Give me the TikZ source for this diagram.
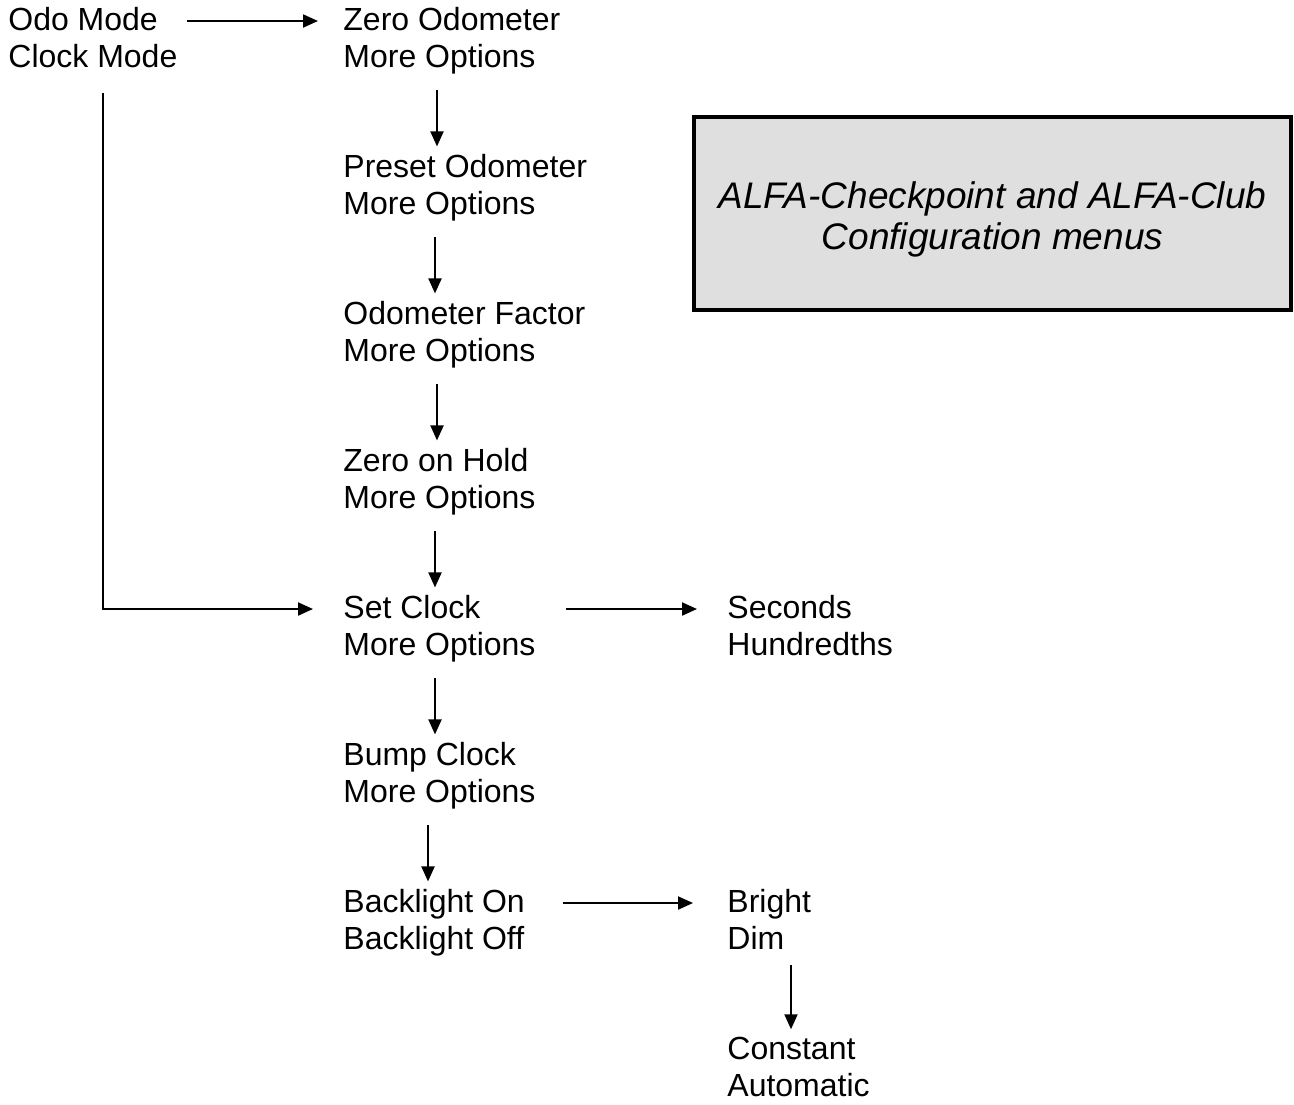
\documentclass[tikz,border=0pt]{standalone}
\usepackage{fontspec}
\setmainfont{Liberation Sans}
\usetikzlibrary{arrows.meta,calc}

\begin{document}
\begin{tikzpicture}[x=0.5pt,y=-0.5pt,
    menu/.style={anchor=base west,inner sep=0pt,align=left,font=\fontsize{16}{18.5}\selectfont},
    arr/.style={-{Triangle[length=7.5pt,width=6.5pt]},line width=1pt},
    titlebox/.style={draw,line width=2pt,fill=gray!25,minimum width=298.5pt,minimum height=96.5pt},
    titletext/.style={inner sep=0pt,align=center,font=\fontsize{18.5}{20.5}\selectfont\itshape}]
    \useasboundingbox (0,0) rectangle (1294,1104);
    \node[menu] (mode) at (8,67) {Odo Mode\\Clock Mode};
    \node[menu] (zero) at (343,67) {Zero Odometer\\More Options};
    \node[menu] (preset) at (343,214) {Preset Odometer\\More Options};
    \node[menu] (factor) at (343,361) {Odometer Factor\\More Options};
    \node[menu] (hold) at (343,508) {Zero on Hold\\More Options};
    \node[menu] (setclk) at (343,655) {Set Clock\\More Options};
    \node[menu] (bump) at (343,802) {Bump Clock\\More Options};
    \node[menu] (backl) at (343,949) {Backlight On\\Backlight Off};
    \node[menu] (secs) at (727,655) {Seconds\\Hundredths};
    \node[menu] (bright) at (727,949) {Bright\\Dim};
    \node[menu] (const) at (727,1096) {Constant\\Automatic};
    \node[titlebox] (title) at (992.5,213.5) {};
    \node[titletext] (titlelbl) at ($(title.center)+(0,6)$) {ALFA-Checkpoint and ALFA-Club\\Configuration menus};
    \draw[arr] ($(mode.base east)+(9,-46)$) -- ($(zero.base west)+(-25,-46)$);
    \draw[arr] ($(zero.south west)+(94,16)$) -- ($(preset.north west)+(94,-7)$);
    \draw[arr] ($(preset.south west)+(92,16)$) -- ($(factor.north west)+(92,-7)$);
    \draw[arr] ($(factor.south west)+(94,16)$) -- ($(hold.north west)+(94,-7)$);
    \draw[arr] ($(hold.south west)+(92,16)$) -- ($(setclk.north west)+(92,-7)$);
    \draw[arr] ($(setclk.south west)+(92,16)$) -- ($(bump.north west)+(92,-7)$);
    \draw[arr] ($(bump.south west)+(85,16)$) -- ($(backl.north west)+(85,-7)$);
    \draw[arr] ($(mode.south west)+(95,25)$) |- ($(setclk.base west)+(-30,-46)$);
    \draw[arr] ($(setclk.base east)+(30,-46)$) -- ($(secs.base west)+(-30,-46)$);
    \draw[arr] ($(backl.base east)+(38,-46)$) -- ($(bright.base west)+(-34,-46)$);
    \draw[arr] ($(bright.south west)+(64,16)$) -- ($(const.north west)+(64,-7)$);
\end{tikzpicture}
\end{document}
